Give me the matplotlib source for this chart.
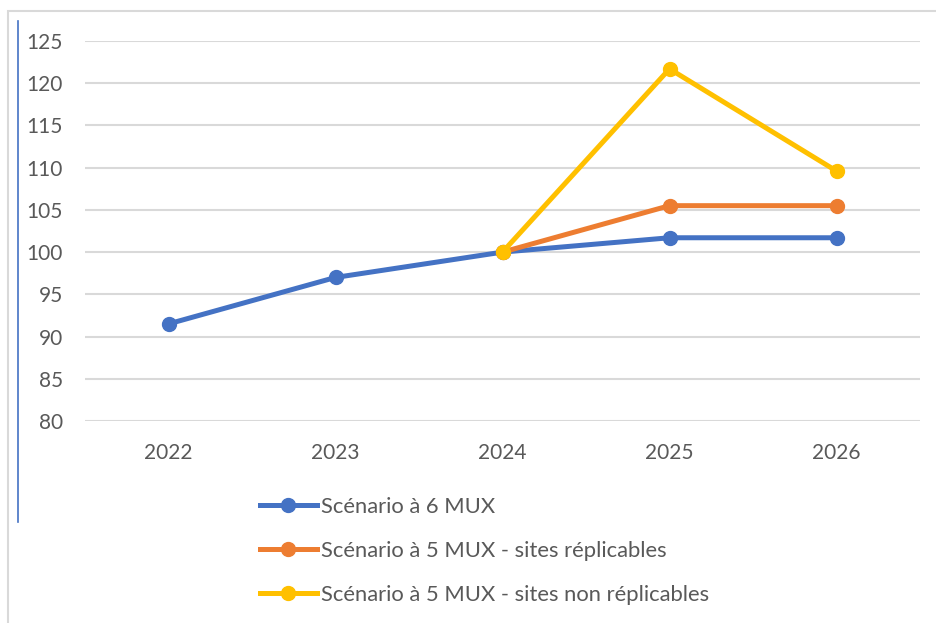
import matplotlib.pyplot as plt
from matplotlib.lines import Line2D
from matplotlib.patches import Rectangle

# Données
annees = ['2022', '2023', '2024', '2025', '2026']
scenario_6mux = [91.5, 97.0, 100.0, 101.7, 101.7]
scenario_5mux_repl = [None, None, 100.0, 105.5, 105.5]
scenario_5mux_non_repl = [None, None, 100.0, 121.7, 109.6]

series = [
    ('Scénario à 6 MUX', scenario_6mux, '#4472C4'),
    ('Scénario à 5 MUX - sites réplicables', scenario_5mux_repl, '#ED7D31'),
    ('Scénario à 5 MUX - sites non réplicables', scenario_5mux_non_repl, '#FFC000'),
]

plt.rcParams['font.family'] = ['Lato', 'DejaVu Sans']
texte = '#595959'

W, H = 936, 623
fig = plt.figure(figsize=(W / 100, H / 100), dpi=100)

# cadre gris et trait bleu à gauche
fig.patches.append(Rectangle((8 / W, -0.1), 1.1, 1 - 11 / H + 0.1, transform=fig.transFigure,
                             fill=False, edgecolor='#D9D9D9', linewidth=1.5))
fig.add_artist(Line2D([18 / W, 18 / W], [1 - 21 / H, 1 - 522 / H], transform=fig.transFigure,
                      color='#4472C4', linewidth=1.2))

ax = fig.add_axes([85 / W, 1 - 421 / H, (920 - 85) / W, (421 - 41) / H])

x = list(range(len(annees)))
for nom, valeurs, couleur in series:
    xs = [xi for xi, v in zip(x, valeurs) if v is not None]
    ys = [v for v in valeurs if v is not None]
    ax.plot(xs, ys, color=couleur, linewidth=3.6, marker='o', markersize=10,
            solid_capstyle='round', label=nom, zorder=3)

ax.set_xlim(-0.5, 4.5)
ax.set_ylim(80, 125)
ax.set_yticks(range(80, 126, 5))
ax.set_xticks(x)
ax.set_xticklabels(annees)
ax.grid(axis='y', color='#D9D9D9', linewidth=1.5)
ax.set_axisbelow(True)
for s in ax.spines.values():
    s.set_visible(False)
ax.tick_params(length=0, labelsize=15, colors=texte)
ax.tick_params(axis='y', pad=16)
ax.tick_params(axis='x', pad=16)

handles = [Line2D([], [], color=c, linewidth=3.6, marker='o', markersize=10) for _, _, c in series]
leg = fig.legend(handles, [n for n, _, _ in series], loc='upper left',
                 bbox_to_anchor=(240 / W, 1 - 477 / H), frameon=False, fontsize=15.8,
                 handlelength=2.6, handletextpad=0.2, labelspacing=1.1, labelcolor=texte)

fig.savefig('out.png', dpi=100)
